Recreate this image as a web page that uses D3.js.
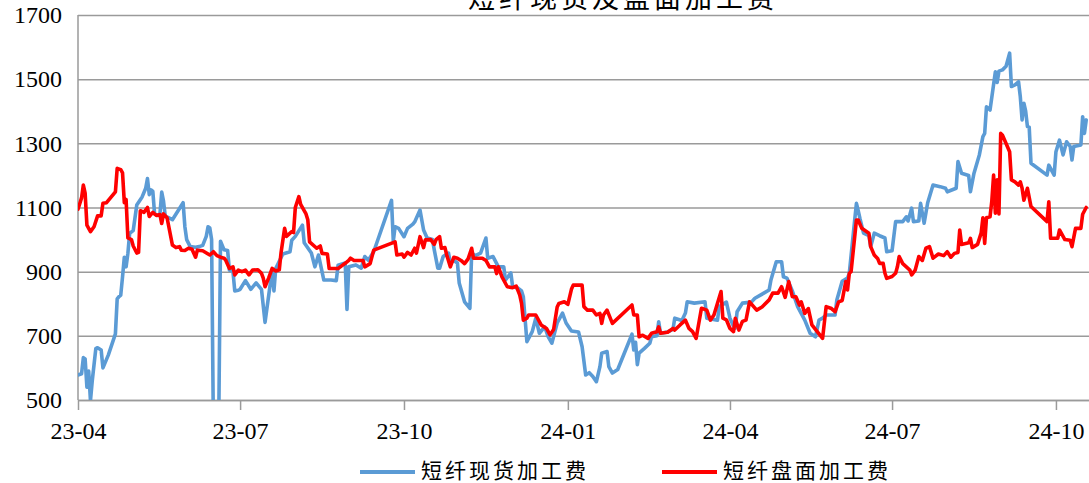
<!DOCTYPE html>
<html><head><meta charset="utf-8">
<script src="https://cdn.jsdelivr.net/npm/d3@7"></script>
<style>body{margin:0;background:#fff;overflow:hidden} svg{display:block}</style>
</head><body><svg id="c" width="1089" height="483"></svg>
<script>
const title = "短纤现货及盘面加工费";
const seriesNames = ["短纤现货加工费", "短纤盘面加工费"];
const yTicks = [500, 700, 900, 1100, 1300, 1500, 1700];
const xTickDates = ["23-04-01","23-07-01","23-10-01","24-01-01","24-04-01","24-07-01","24-10-01"];
const xTickLabels = ["23-04","23-07","23-10","24-01","24-04","24-07","24-10"];

const spotDates = ["23-04-01","23-04-03","23-04-04","23-04-05","23-04-06","23-04-07","23-04-08","23-04-09","23-04-11","23-04-12","23-04-14","23-04-15","23-04-18","23-04-22","23-04-23","23-04-24","23-04-25","23-04-26","23-04-27","23-04-28","23-04-29","23-04-30","23-05-02","23-05-04","23-05-07","23-05-09","23-05-10","23-05-11","23-05-12","23-05-13","23-05-14","23-05-16","23-05-17","23-05-18","23-05-19","23-05-20","23-05-22","23-05-24","23-05-30","23-05-31","23-06-01","23-06-03","23-06-06","23-06-08","23-06-10","23-06-12","23-06-13","23-06-14","23-06-15","23-06-16","23-06-19","23-06-20","23-06-22","23-06-24","23-06-25","23-06-27","23-06-28","23-06-30","23-07-01","23-07-04","23-07-07","23-07-10","23-07-13","23-07-15","23-07-19","23-07-20","23-07-21","23-07-25","23-07-29","23-07-30","23-08-01","23-08-05","23-08-06","23-08-10","23-08-12","23-08-14","23-08-17","23-08-21","23-08-24","23-08-25","23-08-29","23-08-30","23-08-31","23-09-04","23-09-07","23-09-09","23-09-11","23-09-14","23-09-24","23-09-25","23-09-26","23-09-28","23-10-01","23-10-03","23-10-06","23-10-07","23-10-10","23-10-12","23-10-14","23-10-17","23-10-18","23-10-20","23-10-21","23-10-23","23-10-26","23-10-27","23-10-29","23-10-31","23-11-01","23-11-04","23-11-07","23-11-08","23-11-10","23-11-13","23-11-16","23-11-17","23-11-20","23-11-23","23-11-26","23-11-27","23-11-30","23-12-01","23-12-04","23-12-06","23-12-07","23-12-09","23-12-12","23-12-14","23-12-16","23-12-19","23-12-21","23-12-23","23-12-26","23-12-29","23-12-31","24-01-03","24-01-07","24-01-09","24-01-11","24-01-13","24-01-15","24-01-17","24-01-19","24-01-20","24-01-23","24-01-24","24-01-26","24-01-29","24-02-06","24-02-07","24-02-08","24-02-09","24-02-10","24-02-13","24-02-16","24-02-17","24-02-20","24-02-21","24-02-22","24-02-26","24-02-29","24-03-01","24-03-05","24-03-07","24-03-08","24-03-12","24-03-18","24-03-19","24-03-25","24-03-26","24-03-30","24-04-01","24-04-03","24-04-04","24-04-05","24-04-08","24-04-13","24-04-15","24-04-20","24-04-23","24-04-24","24-04-27","24-04-30","24-05-01","24-05-03","24-05-06","24-05-09","24-05-13","24-05-16","24-05-19","24-05-21","24-05-23","24-05-25","24-05-30","24-05-31","24-06-03","24-06-06","24-06-07","24-06-10","24-06-11","24-06-12","24-06-13","24-06-15","24-06-18","24-06-19","24-06-21","24-06-24","24-06-27","24-06-28","24-07-01","24-07-03","24-07-07","24-07-09","24-07-10","24-07-12","24-07-13","24-07-16","24-07-17","24-07-19","24-07-21","24-07-24","24-07-28","24-07-31","24-08-01","24-08-06","24-08-07","24-08-09","24-08-13","24-08-14","24-08-16","24-08-19","24-08-21","24-08-22","24-08-23","24-08-25","24-08-28","24-08-29","24-08-30","24-09-01","24-09-03","24-09-05","24-09-06","24-09-08","24-09-10","24-09-11","24-09-12","24-09-13","24-09-14","24-09-15","24-09-16","24-09-17","24-09-26","24-09-27","24-09-30","24-10-01","24-10-03","24-10-05","24-10-07","24-10-09","24-10-10","24-10-11","24-10-15","24-10-16","24-10-17","24-10-18"];
const spotValues = [578,582,632,628,540,590,498,560,660,663,656,600,640,706,815,822,827,884,945,915,957,1020,1028,1108,1133,1160,1190,1140,1155,1150,1080,1075,1080,1148,1120,1072,1068,1062,1115,1040,1000,978,976,978,982,1010,1040,1036,1000,420,420,995,968,966,905,900,840,842,845,872,845,865,845,742,905,840,910,955,962,998,1010,1045,990,958,915,952,874,874,872,920,927,782,915,921,911,947,936,962,1122,995,1040,1035,1009,1035,1048,1055,1092,1030,1005,1000,968,911,911,947,958,927,935,927,865,806,786,958,950,958,1005,942,947,915,915,874,896,853,849,840,822,682,713,755,708,728,697,677,740,771,740,715,712,666,578,585,573,557,604,646,651,604,584,595,705,656,680,610,646,661,677,697,700,744,708,712,720,755,748,771,806,802,806,755,749,791,805,755,730,724,775,802,805,817,833,843,874,931,931,884,880,840,791,749,708,697,749,755,765,765,812,870,880,895,1060,1113,1090,1065,1020,1012,978,1020,1012,1005,962,965,1056,1056,1071,1058,1098,1056,1058,1113,1051,1115,1170,1165,1160,1149,1160,1243,1207,1200,1149,1207,1264,1321,1331,1414,1404,1523,1490,1525,1529,1540,1581,1477,1482,1492,1445,1373,1425,1400,1352,1350,1238,1201,1232,1201,1274,1310,1264,1305,1290,1248,1290,1295,1383,1331,1373];

const futDates = ["23-04-01","23-04-03","23-04-04","23-04-05","23-04-06","23-04-08","23-04-10","23-04-12","23-04-14","23-04-15","23-04-17","23-04-22","23-04-23","23-04-25","23-04-26","23-04-27","23-04-28","23-04-29","23-05-01","23-05-02","23-05-04","23-05-05","23-05-06","23-05-08","23-05-10","23-05-11","23-05-13","23-05-15","23-05-17","23-05-18","23-05-19","23-05-21","23-05-24","23-05-26","23-05-28","23-05-29","23-05-31","23-06-02","23-06-04","23-06-06","23-06-07","23-06-10","23-06-14","23-06-16","23-06-18","23-06-20","23-06-22","23-06-23","23-06-25","23-06-27","23-06-28","23-06-30","23-07-02","23-07-04","23-07-06","23-07-08","23-07-11","23-07-13","23-07-14","23-07-15","23-07-17","23-07-19","23-07-21","23-07-23","23-07-24","23-07-26","23-07-27","23-07-30","23-07-31","23-08-01","23-08-03","23-08-04","23-08-07","23-08-08","23-08-09","23-08-13","23-08-15","23-08-16","23-08-19","23-08-20","23-08-25","23-08-27","23-08-29","23-08-31","23-09-01","23-09-03","23-09-08","23-09-09","23-09-12","23-09-14","23-09-26","23-09-27","23-09-30","23-10-01","23-10-03","23-10-05","23-10-07","23-10-08","23-10-10","23-10-12","23-10-13","23-10-16","23-10-18","23-10-19","23-10-21","23-10-22","23-10-24","23-10-25","23-10-27","23-10-29","23-10-31","23-11-02","23-11-04","23-11-06","23-11-08","23-11-09","23-11-14","23-11-16","23-11-18","23-11-21","23-11-22","23-11-23","23-11-25","23-11-28","23-12-01","23-12-03","23-12-05","23-12-06","23-12-07","23-12-09","23-12-10","23-12-14","23-12-17","23-12-20","23-12-22","23-12-24","23-12-26","23-12-27","23-12-30","24-01-01","24-01-03","24-01-04","24-01-09","24-01-10","24-01-12","24-01-15","24-01-17","24-01-19","24-01-20","24-01-21","24-01-23","24-01-26","24-02-06","24-02-07","24-02-09","24-02-10","24-02-12","24-02-15","24-02-17","24-02-20","24-02-21","24-02-22","24-02-26","24-02-29","24-03-01","24-03-04","24-03-07","24-03-09","24-03-11","24-03-13","24-03-16","24-03-19","24-03-21","24-03-23","24-03-27","24-03-28","24-03-30","24-04-01","24-04-03","24-04-04","24-04-06","24-04-08","24-04-10","24-04-12","24-04-16","24-04-19","24-04-23","24-04-25","24-04-28","24-04-30","24-05-02","24-05-04","24-05-06","24-05-08","24-05-10","24-05-11","24-05-13","24-05-15","24-05-17","24-05-20","24-05-23","24-05-25","24-05-28","24-05-30","24-06-01","24-06-03","24-06-05","24-06-06","24-06-07","24-06-08","24-06-11","24-06-12","24-06-14","24-06-18","24-06-19","24-06-21","24-06-23","24-06-24","24-06-26","24-06-27","24-06-28","24-07-01","24-07-03","24-07-04","24-07-05","24-07-07","24-07-09","24-07-11","24-07-12","24-07-14","24-07-16","24-07-18","24-07-20","24-07-22","24-07-24","24-07-27","24-07-30","24-08-01","24-08-03","24-08-05","24-08-07","24-08-08","24-08-09","24-08-13","24-08-14","24-08-15","24-08-18","24-08-20","24-08-21","24-08-22","24-08-23","24-08-25","24-08-26","24-08-27","24-08-28","24-08-29","24-08-30","24-08-31","24-09-01","24-09-05","24-09-06","24-09-08","24-09-10","24-09-11","24-09-12","24-09-13","24-09-15","24-09-17","24-09-26","24-09-27","24-09-28","24-10-02","24-10-03","24-10-06","24-10-09","24-10-10","24-10-12","24-10-15","24-10-16","24-10-18"];
const futValues = [1095,1130,1170,1145,1045,1025,1040,1074,1074,1113,1115,1149,1222,1218,1208,1115,1125,1005,1000,980,958,960,1090,1085,1100,1072,1085,1075,1078,1050,1080,1068,983,975,978,967,966,973,970,945,967,965,952,962,950,945,942,935,910,915,890,905,900,905,890,905,906,895,880,853,880,910,902,906,960,1035,1010,1025,1022,1100,1134,1110,1080,1062,993,973,980,957,955,910,910,918,926,935,942,935,935,915,925,967,993,952,955,945,960,952,973,958,1009,975,999,1000,985,1000,1009,973,975,952,915,945,942,935,925,940,973,942,942,935,915,915,894,915,884,853,850,855,827,801,749,755,765,765,734,723,703,720,790,801,806,798,845,858,858,791,780,780,765,770,739,765,780,739,796,765,765,697,702,692,708,713,728,708,711,723,718,734,749,723,713,692,786,780,749,765,838,755,750,723,713,755,718,745,749,806,780,790,812,833,833,853,820,869,822,822,796,806,770,785,734,713,692,791,785,775,806,810,869,843,895,900,1061,1061,1035,1020,978,952,940,926,926,895,879,885,895,915,947,925,915,905,890,905,947,935,973,978,942,955,950,962,945,957,960,1030,985,990,1004,975,985,1020,1068,988,1068,1071,1120,1201,1082,1186,1080,1331,1325,1274,1186,1180,1170,1180,1160,1123,1160,1103,1056,1118,1004,1004,1030,1000,998,978,1035,1035,1079,1100];

const parse = d3.timeParse("%y-%m-%d");
const spot = spotDates.map((d, i) => ({date: parse(d), v: spotValues[i]}));
const fut = futDates.map((d, i) => ({date: parse(d), v: futValues[i]}));

const W = 1089, H = 483;
const mLeft = 78, mRight = 1088, mTop = 15, mBottom = 400;
const svg = d3.select("#c");

const x = d3.scaleTime().domain([parse("23-04-01"), parse("24-10-19")]).range([mLeft, mRight]);
const y = d3.scaleLinear().domain([500, 1700]).range([mBottom, mTop]);

const gridColor = "#9a9a9a";
const serif = "'Liberation Serif', 'Times New Roman', serif";

const yAxis = svg.append("g").attr("transform", `translate(${mLeft},0)`)
  .call(d3.axisLeft(y).tickValues(yTicks).tickSize(-(W - mLeft)).tickPadding(16).tickFormat(d3.format("d")));
yAxis.select(".domain").remove();
yAxis.selectAll(".tick line").attr("stroke", gridColor).attr("stroke-width", 1.5);
yAxis.selectAll(".tick text").attr("font-family", serif)
  .attr("font-size", 24).attr("fill", "#000");

svg.append("line").attr("x1", mLeft).attr("x2", mLeft).attr("y1", mTop).attr("y2", mBottom)
  .attr("stroke", gridColor).attr("stroke-width", 1.5);

const xAxis = svg.append("g").attr("transform", `translate(0,${mBottom})`)
  .call(d3.axisBottom(x).tickValues(xTickDates.map(parse)).tickSize(10).tickPadding(12)
    .tickFormat((d, i) => xTickLabels[i]));
xAxis.select(".domain").attr("stroke", gridColor).attr("stroke-width", 1.5)
  .attr("d", `M${mLeft},0.5H${W}`);
xAxis.selectAll(".tick line").attr("stroke", gridColor).attr("stroke-width", 1.5);
xAxis.selectAll(".tick text").attr("font-family", serif)
  .attr("font-size", 24).attr("fill", "#000");

svg.append("defs").append("clipPath").attr("id", "plot")
  .append("rect").attr("x", mLeft).attr("y", 0).attr("width", W - mLeft).attr("height", mBottom);

const line = d3.line().x(d => x(d.date)).y(d => y(d.v));
const colors = ["#5B9BD5", "#FF0000"];
const g = svg.append("g").attr("clip-path", "url(#plot)");
[spot, fut].forEach((s, i) => {
  g.append("path").datum(s).attr("d", line).attr("fill", "none")
    .attr("stroke", colors[i]).attr("stroke-width", 3.6)
    .attr("stroke-linejoin", "round").attr("stroke-linecap", "round");
});

svg.append("text").attr("x", 623).attr("y", 8).attr("text-anchor", "middle")
  .attr("font-family", "'Noto Sans CJK SC', sans-serif").attr("font-size", 27)
  .attr("letter-spacing", 4).attr("fill", "#000").text(title);

const legendX = [360, 662];
seriesNames.forEach((n, i) => {
  svg.append("line").attr("x1", legendX[i]).attr("x2", legendX[i] + 55)
    .attr("y1", 472).attr("y2", 472).attr("stroke", colors[i]).attr("stroke-width", 4);
  svg.append("text").attr("x", legendX[i] + 61).attr("y", 478)
    .attr("font-family", "'Noto Sans CJK SC', sans-serif").attr("font-size", 21)
    .attr("letter-spacing", 3).attr("fill", "#000").text(n);
});
</script>
</body></html>
